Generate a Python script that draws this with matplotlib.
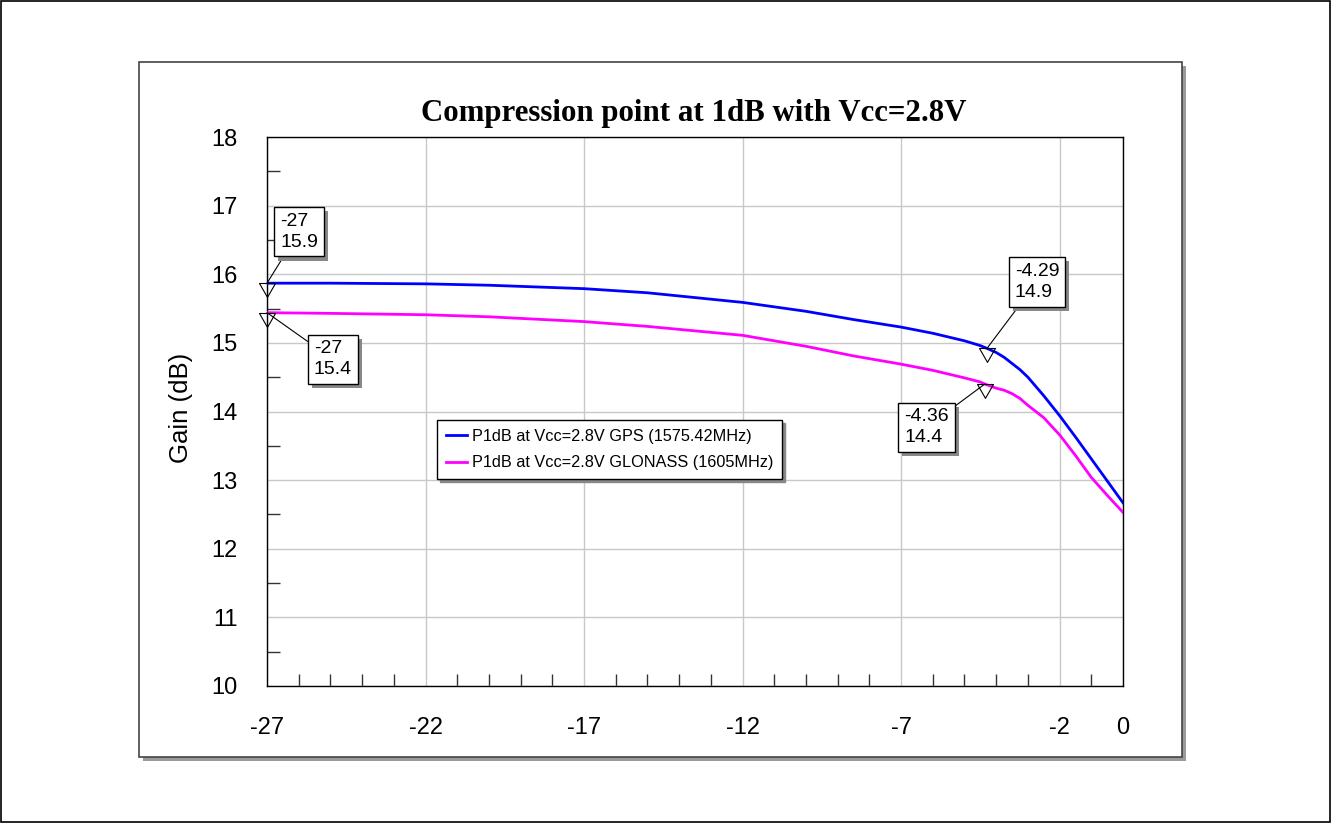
import matplotlib.pyplot as plt
import matplotlib.patheffects as pe
from matplotlib.patches import Rectangle
from matplotlib.path import Path
from matplotlib.ticker import MultipleLocator, FixedLocator

plt.rcParams.update({
    "font.family": ["Liberation Sans", "DejaVu Sans"],
    "axes.linewidth": 1.0,
    "axes.unicode_minus": False,
})

# data
pin = [-27, -25, -22, -20, -17, -15, -12, -10, -8.5, -7, -6, -5, -4.5,
       -4.29, -4, -3.75, -3.5, -3.25, -3, -2.5, -2, -1.5, -1, -0.5, 0]
gain_gps = [15.87, 15.87, 15.86, 15.84, 15.79, 15.73, 15.59, 15.46, 15.34,
            15.23, 15.14, 15.03, 14.96, 14.92, 14.86, 14.79, 14.70, 14.61,
            14.50, 14.23, 13.94, 13.63, 13.31, 12.99, 12.67]
pin_glo = [-27, -25, -22, -20, -17, -15, -12, -10, -8.5, -7, -6, -5, -4.5,
           -4.36, -4, -3.75, -3.5, -3.25, -3, -2.5, -2, -1.5, -1, -0.5, 0]
gain_glo = [15.44, 15.43, 15.41, 15.38, 15.31, 15.24, 15.11, 14.95, 14.81,
            14.69, 14.60, 14.49, 14.43, 14.40, 14.34, 14.31, 14.26, 14.19,
            14.09, 13.91, 13.66, 13.36, 13.04, 12.78, 12.53]

x_ticks = [-27, -22, -17, -12, -7, -2, 0]
y_ticks = [10, 11, 12, 13, 14, 15, 16, 17, 18]

series_labels = ["P1dB at Vcc=2.8V GPS (1575.42MHz)",
                 "P1dB at Vcc=2.8V GLONASS (1605MHz)"]

# markers: (x, y, label x, label y, text)
markers = [(-27, 15.87, -25.99, 16.62, "-27\n15.9"),
           (-27, 15.44, -24.92, 14.76, "-27\n15.4"),
           (-4.29, 14.92, -2.71, 15.89, "-4.29\n14.9"),
           (-4.36, 14.40, -6.20, 13.77, "-4.36\n14.4")]

W, H = 1331, 823
fig = plt.figure(figsize=(W / 100, H / 100), dpi=100)


def fx(x):
    return x / W


def fy(y):
    return 1 - y / H


# outer border and chart panel with shadow
fig.add_artist(Rectangle((fx(1), fy(822)), fx(1329), 821 / H, transform=fig.transFigure,
                         fill=False, ec="black", lw=1.2, zorder=-5))
fig.add_artist(Rectangle((fx(143), fy(761)), fx(1043), 695 / H, transform=fig.transFigure,
                         fc="#9a9a9a", ec="none", zorder=-4))
fig.add_artist(Rectangle((fx(139), fy(757)), fx(1043), 695 / H, transform=fig.transFigure,
                         fc="white", ec="#444444", lw=1.2, zorder=-3))

ax = fig.add_axes([fx(267), fy(686), fx(1123 - 267), (686 - 137) / H])
ax.set_xlim(-27, 0)
ax.set_ylim(10, 18)

ax.plot(pin, gain_gps, color="#0000ff", lw=2.0, label=series_labels[0], zorder=3,
        solid_joinstyle="round")
ax.plot(pin_glo, gain_glo, color="#ff00ff", lw=2.0, label=series_labels[1], zorder=3,
        solid_joinstyle="round")

ax.xaxis.set_major_locator(FixedLocator(x_ticks))
ax.yaxis.set_major_locator(FixedLocator(y_ticks))
ax.xaxis.set_minor_locator(MultipleLocator(1))
ax.yaxis.set_minor_locator(MultipleLocator(0.5))
ax.grid(True, which="major", color="#c8c8c8", lw=1.0)
ax.set_axisbelow(True)
ax.tick_params(which="major", length=0, labelsize=17)
ax.tick_params(axis="x", which="major", pad=22)
ax.tick_params(axis="y", which="major", pad=21)
ax.tick_params(which="minor", direction="in", length=9, width=1, color="#333333")

# triangle marker, top edge on the point
tri = Path([(-0.5, 0), (0.5, 0), (0, -0.87), (-0.5, 0)],
           [Path.MOVETO, Path.LINETO, Path.LINETO, Path.CLOSEPOLY])

box_shadow = [pe.SimplePatchShadow(offset=(3, -3), shadow_rgbFace="#888888", alpha=1),
              pe.Normal()]
for mx, my, tx, ty, txt in markers:
    ax.plot([mx], [my], marker=tri, ms=20, mfc="none", mec="black", mew=0.8,
            ls="none", clip_on=False, zorder=6)
    ax.annotate(txt, xy=(mx, my), xytext=(tx, ty), textcoords="data",
                ha="center", va="center", multialignment="left", fontsize=14,
                linespacing=1.3,
                bbox=dict(boxstyle="square,pad=0.3", fc="white", ec="black", lw=1,
                          path_effects=box_shadow),
                arrowprops=dict(arrowstyle="-", color="black", lw=0.8,
                                shrinkA=0, shrinkB=0),
                annotation_clip=False, zorder=5)

leg = ax.legend(loc="upper left", bbox_to_anchor=((437 - 267) / 856, (686 - 420) / 549),
                borderaxespad=0, fontsize=11.7, fancybox=False, framealpha=1,
                edgecolor="black", handlelength=1.3, handletextpad=0.3,
                borderpad=0.55, labelspacing=0.7,
                shadow={"facecolor": "#888888", "edgecolor": "#888888", "alpha": 1})
leg.get_frame().set_linewidth(1.0)
leg.set_zorder(7)

fig.text(fx(694), fy(113), "Compression point at 1dB with Vcc=2.8V", ha="center", va="center",
         fontsize=22.2, fontweight="bold", family="Liberation Serif")
fig.text(fx(181), fy(408), "Gain (dB)", rotation=90, ha="center", va="center", fontsize=18.5)

fig.savefig("out.png", dpi=100, facecolor="white")
